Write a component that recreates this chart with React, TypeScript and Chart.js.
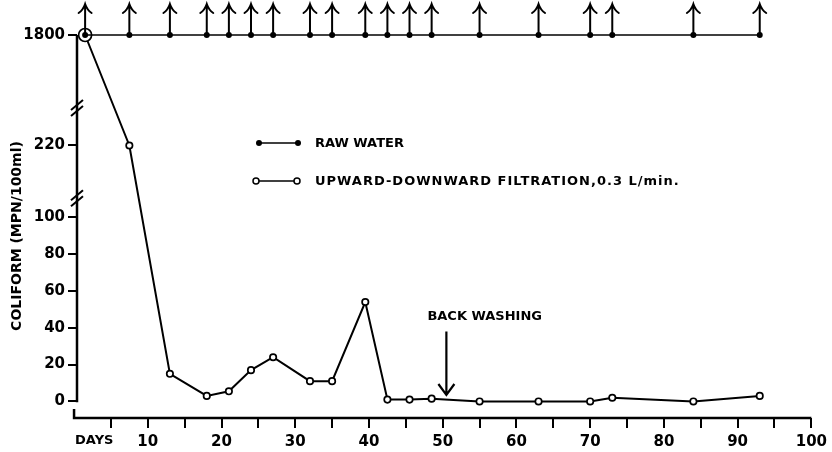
import React, { useEffect, useRef } from 'react';
import { Chart, registerables } from 'chart.js';

Chart.register(...registerables);

// ---- data ----
const days = [1.5, 7.5, 13, 18, 21, 24, 27, 32, 35, 39.5, 42.5, 45.5, 48.5, 55, 63, 70, 73, 84, 93];
const rawWater = [1800, 1800, 1800, 1800, 1800, 1800, 1800, 1800, 1800, 1800, 1800, 1800, 1800, 1800, 1800, 1800, 1800, 1800, 1800];
const filtration = [1800, 220, 15, 3, 5.5, 17, 24, 11, 11, 54, 1, 1, 1.5, 0, 0, 0, 2, 0, 3];

const yTickValues = [0, 20, 40, 60, 80, 100, 220, 1800];
const yTickLabels = ['0', '20', '40', '60', '80', '100', '220', '1800'];
const xTickValues = [5, 10, 15, 20, 25, 30, 35, 40, 45, 50, 55, 60, 65, 70, 75, 80, 85, 90, 95, 100];
const xTickLabels = ['', '10', '', '20', '', '30', '', '40', '', '50', '', '60', '', '70', '', '80', '', '90', '', '100'];

const seriesNames = ['RAW WATER', 'UPWARD-DOWNWARD FILTRATION,0.3 L/min.'];
const yTitle = 'COLIFORM (MPN/100ml)';
const xFirstLabel = 'DAYS';

// broken axis: anchors of (data value -> axis position)
const axisAnchors = [
  [0, 0],
  [100, 100],
  [220, 139],
  [1800, 199],
];
const axisBreaks = [132, 755]; // data values where the axis is broken

const backwashDay = 50.5;
const backwashLabel = 'BACK WASHING';
const backwashFrom = 38;
const backwashTo = 3.5;

function toAxis(v: number): number {
  if (v <= axisAnchors[0][0]) return v;
  for (let i = 1; i < axisAnchors.length; i++) {
    const [v0, a0] = axisAnchors[i - 1];
    const [v1, a1] = axisAnchors[i];
    if (v <= v1) return a0 + ((v - v0) * (a1 - a0)) / (v1 - v0);
  }
  return axisAnchors[axisAnchors.length - 1][1];
}

const FONT = "'DejaVu Sans', 'Liberation Sans', sans-serif";

const decorPlugin = {
  id: 'decor',
  afterDatasetsDraw(chart: any) {
    const ctx = chart.ctx as CanvasRenderingContext2D;
    const meta = chart.getDatasetMeta(0);
    ctx.save();
    ctx.strokeStyle = '#000';
    ctx.lineWidth = 2;
    ctx.lineCap = 'round';
    meta.data.forEach((pt: any) => {
      const x = pt.x;
      const y = pt.y;
      ctx.beginPath();
      ctx.moveTo(x, y);
      ctx.lineTo(x, y - 30);
      ctx.moveTo(x - 6.5, y - 22);
      ctx.quadraticCurveTo(x - 2, y - 25, x, y - 31);
      ctx.quadraticCurveTo(x + 2, y - 25, x + 6.5, y - 22);
      ctx.stroke();
    });
    ctx.restore();
  },
  afterDraw(chart: any) {
    const ctx = chart.ctx as CanvasRenderingContext2D;
    const xs = chart.scales.x;
    const ys = chart.scales.y;
    const area = chart.chartArea;
    ctx.save();
    ctx.strokeStyle = '#000';
    ctx.fillStyle = '#000';
    ctx.lineCap = 'butt';

    // y axis line
    ctx.lineWidth = 2.5;
    ctx.beginPath();
    ctx.moveTo(area.left, ys.getPixelForValue(toAxis(1800)));
    ctx.lineTo(area.left, ys.getPixelForValue(-0.5));
    ctx.stroke();

    // x axis line with small upward end at day 0
    const x0 = xs.getPixelForValue(0);
    ctx.beginPath();
    ctx.moveTo(x0, area.bottom - 9);
    ctx.lineTo(x0, area.bottom);
    ctx.lineTo(xs.getPixelForValue(100), area.bottom);
    ctx.stroke();

    // axis breaks
    ctx.lineWidth = 2;
    axisBreaks.forEach((v) => {
      const yb = ys.getPixelForValue(toAxis(v));
      [-3, 3].forEach((d) => {
        ctx.beginPath();
        ctx.moveTo(area.left - 6, yb + d + 5);
        ctx.lineTo(area.left + 6, yb + d - 5);
        ctx.stroke();
      });
    });

    // y axis title
    ctx.save();
    ctx.translate(17, 236);
    ctx.rotate(-Math.PI / 2);
    ctx.font = `bold 14px ${FONT}`;
    ctx.textAlign = 'center';
    ctx.textBaseline = 'middle';
    ctx.fillText(yTitle, 0, 0);
    ctx.restore();

    // DAYS label
    ctx.font = `bold 13px ${FONT}`;
    ctx.textAlign = 'left';
    ctx.textBaseline = 'middle';
    ctx.fillText(xFirstLabel, x0 + 1, 441);

    // legend
    ctx.lineWidth = 1.5;
    ctx.beginPath();
    ctx.moveTo(259, 143);
    ctx.lineTo(298, 143);
    ctx.stroke();
    [259, 298].forEach((px) => {
      ctx.beginPath();
      ctx.arc(px, 143, 3, 0, Math.PI * 2);
      ctx.fill();
    });
    ctx.beginPath();
    ctx.moveTo(256, 181);
    ctx.lineTo(297, 181);
    ctx.stroke();
    [256, 297].forEach((px) => {
      ctx.beginPath();
      ctx.arc(px, 181, 3, 0, Math.PI * 2);
      ctx.fillStyle = '#fff';
      ctx.fill();
      ctx.stroke();
    });
    ctx.fillStyle = '#000';
    ctx.font = `bold 13px ${FONT}`;
    ctx.textAlign = 'left';
    ctx.textBaseline = 'middle';
    ctx.fillText(seriesNames[0], 315, 144);
    (ctx as any).letterSpacing = '1px';
    ctx.fillText(seriesNames[1], 315, 182);
    (ctx as any).letterSpacing = '0px';

    // back washing annotation
    const bx = xs.getPixelForValue(backwashDay);
    const byTop = ys.getPixelForValue(backwashFrom);
    const byTip = ys.getPixelForValue(backwashTo);
    ctx.font = `bold 13px ${FONT}`;
    ctx.textAlign = 'left';
    ctx.fillText(backwashLabel, bx - 19, 317);
    ctx.lineWidth = 2.2;
    ctx.beginPath();
    ctx.moveTo(bx, byTop);
    ctx.lineTo(bx, byTip);
    ctx.moveTo(bx - 8, byTip - 11);
    ctx.lineTo(bx, byTip);
    ctx.lineTo(bx + 8, byTip - 11);
    ctx.stroke();

    ctx.restore();
  },
};

export default function App() {
  const canvasRef = useRef<HTMLCanvasElement | null>(null);

  useEffect(() => {
    if (!canvasRef.current) return;
    Chart.defaults.font.family = FONT;
    Chart.defaults.color = '#000';

    const rawPoints = days.map((d, i) => ({ x: d, y: toAxis(rawWater[i]) }));
    const filtPoints = days.map((d, i) => ({ x: d, y: toAxis(filtration[i]) }));

    const chart = new Chart(canvasRef.current, {
      type: 'scatter',
      data: {
        datasets: [
          {
            label: seriesNames[0],
            data: rawPoints,
            showLine: true,
            borderColor: '#000',
            backgroundColor: '#000',
            borderWidth: 1.6,
            pointRadius: 3,
            pointBorderWidth: 0,
            pointBackgroundColor: '#000',
            clip: false as any,
            order: 0,
          },
          {
            label: seriesNames[1],
            data: filtPoints,
            showLine: true,
            borderColor: '#000',
            backgroundColor: '#fff',
            borderWidth: 2,
            pointRadius: filtPoints.map((_, i) => (i === 0 ? 6.5 : 3.2)),
            pointBorderWidth: 1.7,
            pointBackgroundColor: '#fff',
            pointBorderColor: '#000',
            clip: false as any,
            order: 1,
          },
        ],
      },
      options: {
        responsive: false,
        animation: false,
        events: [],
        layout: { padding: { left: 0, top: 35, right: 20, bottom: 0 } },
        plugins: {
          legend: { display: false },
          tooltip: { enabled: false },
        },
        scales: {
          x: {
            type: 'linear',
            min: 0.4,
            max: 100,
            afterFit: (s: any) => {
              s.height = 34;
            },
            afterBuildTicks: (s: any) => {
              s.ticks = xTickValues.map((v) => ({ value: v }));
            },
            border: { display: false },
            grid: {
              drawOnChartArea: false,
              drawTicks: true,
              tickLength: 10,
              color: '#000',
              lineWidth: 2,
            },
            ticks: {
              autoSkip: false,
              maxRotation: 0,
              padding: 5,
              color: '#000',
              font: { size: 15, weight: 'bold', family: FONT },
              callback: (_v: any, i: number) => xTickLabels[i],
            },
          },
          y: {
            type: 'linear',
            min: -9,
            max: toAxis(1800),
            afterFit: (s: any) => {
              s.width = 77;
            },
            afterBuildTicks: (s: any) => {
              s.ticks = yTickValues.map((v) => ({ value: toAxis(v) }));
            },
            border: { display: false },
            grid: {
              drawOnChartArea: false,
              drawTicks: true,
              tickLength: 9,
              color: '#000',
              lineWidth: 2,
            },
            ticks: {
              autoSkip: false,
              padding: 3,
              color: '#000',
              font: { size: 15, weight: 'bold', family: FONT },
              callback: (_v: any, i: number) => yTickLabels[i],
            },
          },
        },
      },
      plugins: [decorPlugin],
    } as any);

    return () => chart.destroy();
  }, []);

  return (
    <div style={{ position: 'fixed', left: 0, top: 0, width: 832, height: 452, background: '#fff' }}>
      <canvas ref={canvasRef} width={832} height={452} style={{ display: 'block' }} />
    </div>
  );
}
